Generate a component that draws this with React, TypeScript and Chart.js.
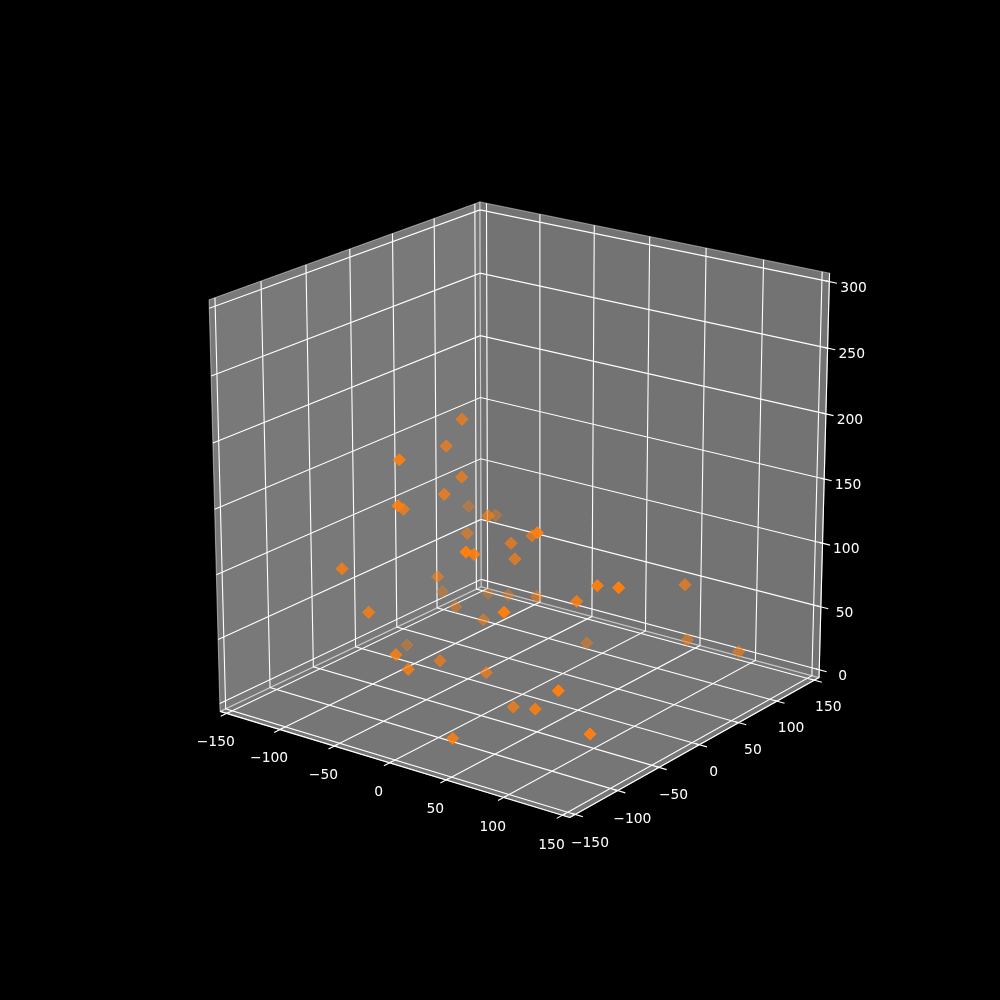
import React, { useEffect, useRef } from "react";
import { Chart, registerables } from "chart.js";
Chart.register(...registerables);

const xTicks = [-150, -100, -50, 0, 50, 100, 150];
const yTicks = [-150, -100, -50, 0, 50, 100, 150];
const zTicks = [0, 50, 100, 150, 200, 250, 300];
const xs = [-25.0,-30.1,-6.8,-16.9,-15.5,-1.1,-36.4,-73.1,3.6,-55.8,-34.9,85.4,25.8,20.6,63.3,38.9,25.1,-46.2,-36.9,-76.0,-51.3,-63.0,-36.5,8.9,94.2,125.8,149.3,92.4,-18.8,30.8,-8.8,19.3,132.8,-22.5,-88.9,1.3,12.0,53.8,94.6,50.6,149.7,125.5,107.9,149.6];
const ys = [-38.3,-50.1,-133.2,-49.5,-71.6,-142.3,-91.7,31.9,-45.8,42.0,-19.9,-97.8,-23.4,-41.4,-149.7,-108.7,-42.8,-149.2,-52.4,3.3,-12.8,42.2,31.6,5.3,-63.5,-83.1,-91.0,-145.4,-22.3,37.1,-86.5,-69.2,-137.8,-149.5,-22.9,-149.5,-149.3,-83.3,-112.5,-149.3,-124.1,24.2,54.0,58.3];
const zs = [212.2,194.3,212.3,173.5,167.2,182.4,157.2,115.3,147.6,109.0,117.9,168.3,130.6,129.1,164.8,145.2,118.6,127.5,93.8,55.9,54.8,45.5,53.6,71.0,108.8,133.9,140.3,126.0,55.2,29.7,46.5,38.4,75.5,100.3,18.7,74.1,65.6,25.3,43.8,23.1,43.0,101.3,45.3,44.6];

// camera fitted to the picture
const EL = 19.7605, AZ = -53.3719, SCALE = 4162, CX = 522.5225, CY = 506.0513, BOX = 1.0466, ZR = 0.9948;
const L = 156.25, ZA = -6.25, ZB = 306.25;
const TICK_OUT = 6.5, TICK_IN = 3, LABEL_OUT = 12.5, LABEL_DY = 7.5;
const LW = 1.11;
const ORANGE = "255,127,14";

const e = (EL * Math.PI) / 180, a = (AZ * Math.PI) / 180;
const w = [Math.cos(e) * Math.cos(a), Math.cos(e) * Math.sin(a), Math.sin(e)];
const box = [BOX, BOX, BOX * ZR];
const eye = [box[0] / 2 + 10 * w[0], box[1] / 2 + 10 * w[1], box[2] / 2 + 10 * w[2]];
const un = Math.hypot(w[0], w[1]);
const u = [-w[1] / un, w[0] / un, 0];
const v = [w[1] * u[2] - w[2] * u[1], w[2] * u[0] - w[0] * u[2], w[0] * u[1] - w[1] * u[0]];
const dot = (p: number[], q: number[]) => p[0] * q[0] + p[1] * q[1] + p[2] * q[2];
function project(x: number, y: number, z: number) {
  const P = [((x + L) / (2 * L)) * box[0], ((y + L) / (2 * L)) * box[1], ((z - ZA) / (ZB - ZA)) * box[2]];
  const d = [P[0] - eye[0], P[1] - eye[1], P[2] - eye[2]];
  const depth = dot(d, w) * -1;
  return { x: dot(d, u) / depth, y: dot(d, v) / depth, depth };
}
const path = (pts: number[][]) => pts.map(([x, y, z]) => { const p = project(x, y, z); return { x: p.x, y: p.y }; });

function lineSet(pts: number[][], color = "#fff") {
  return { type: "line", data: path(pts), borderColor: color, borderWidth: LW, pointRadius: 0, fill: false, tension: 0, borderCapStyle: "butt", borderJoinStyle: "miter" } as any;
}
function pane(pts: number[][], c: number) {
  const col = `rgba(${c},${c},${c},0.5)`;
  return { type: "line", data: path([...pts, pts[0]]), borderColor: col, backgroundColor: col, borderWidth: LW, pointRadius: 0, fill: "shape", tension: 0 } as any;
}
const fmt = (t: number) => (t < 0 ? "\u2212" + Math.abs(t) : String(t));

function buildDatasets() {
  const sets: any[] = [];
  sets.push(pane([[-L, -L, ZA], [-L, L, ZA], [-L, L, ZB], [-L, -L, ZB]], 242));
  sets.push(pane([[-L, L, ZA], [L, L, ZA], [L, L, ZB], [-L, L, ZB]], 230));
  sets.push(pane([[-L, -L, ZA], [L, -L, ZA], [L, L, ZA], [-L, L, ZA]], 236));
  sets.push(lineSet([[-L, -L, ZA], [L, -L, ZA]]));
  xTicks.forEach((t) => {
    sets.push(lineSet([[t, -L, ZA], [t, L, ZA], [t, L, ZB]]));
    sets.push(lineSet([[t, -L - TICK_OUT, ZA], [t, -L + TICK_IN, ZA]]));
  });
  sets.push(lineSet([[L, -L, ZA], [L, L, ZA]]));
  yTicks.forEach((t) => {
    sets.push(lineSet([[L, t, ZA], [-L, t, ZA], [-L, t, ZB]]));
    sets.push(lineSet([[L + TICK_OUT, t, ZA], [L - TICK_IN, t, ZA]]));
  });
  sets.push(lineSet([[L, L, ZA], [L, L, ZB]]));
  zTicks.forEach((t) => {
    sets.push(lineSet([[-L, -L, t], [-L, L, t], [L, L, t]]));
    sets.push(lineSet([[L + TICK_OUT, L, t], [L - TICK_IN, L, t]]));
  });
  const depth = xs.map((x, i) => project(x, ys[i], zs[i]).depth);
  const lo = Math.min(...depth), hi = Math.max(...depth);
  const order = xs.map((_, i) => i).sort((p, q) => depth[q] - depth[p]);
  const colors = order.map((i) => `rgba(${ORANGE},${(1 - (0.7 * (depth[i] - lo)) / (hi - lo)).toFixed(3)})`);
  sets.push({
    type: "scatter",
    data: order.map((i) => { const p = project(xs[i], ys[i], zs[i]); return { x: p.x, y: p.y }; }),
    pointStyle: "rectRot",
    pointRadius: 6.1,
    pointBorderWidth: 1,
    pointBorderColor: colors,
    pointBackgroundColor: colors,
    showLine: false,
    clip: false,
  });
  return sets.reverse();
}

const tickText = {
  id: "tickText",
  afterDraw(chart: any) {
    const { ctx, scales } = chart;
    ctx.save();
    ctx.fillStyle = "#fff";
    ctx.font = "13.89px 'DejaVu Sans'";
    ctx.textAlign = "center";
    ctx.textBaseline = "middle";
    const put = (t: number, x: number, y: number, z: number) => {
      const p = project(x, y, z);
      ctx.fillText(fmt(t), scales.x.getPixelForValue(p.x), scales.y.getPixelForValue(p.y) + LABEL_DY);
    };
    xTicks.forEach((t) => put(t, t, -L - LABEL_OUT, ZA - LABEL_OUT));
    yTicks.forEach((t) => put(t, L + LABEL_OUT, t, ZA - LABEL_OUT));
    zTicks.forEach((t) => put(t, L + LABEL_OUT, L + LABEL_OUT, t));
    ctx.restore();
  },
};

export default function App() {
  const ref = useRef<HTMLCanvasElement>(null);
  useEffect(() => {
    document.body.style.margin = "0";
    document.body.style.background = "#000";
    const chart = new Chart(ref.current!, {
      type: "scatter",
      data: { datasets: buildDatasets() },
      options: {
        animation: false,
        responsive: false,
        devicePixelRatio: 1,
        layout: { padding: 0, autoPadding: false },
        plugins: { legend: { display: false }, tooltip: { enabled: false }, filler: { propagate: false } },
        events: [],
        scales: {
          x: { type: "linear", display: false, bounds: "data", min: (0 - CX) / SCALE, max: (1000 - CX) / SCALE },
          y: { type: "linear", display: false, bounds: "data", min: (0 - CY) / SCALE, max: (1000 - CY) / SCALE },
        },
      },
      plugins: [tickText],
    } as any);
    return () => chart.destroy();
  }, []);
  return <canvas ref={ref} width={1000} height={1000} style={{ display: "block", background: "#000" }} />;
}
